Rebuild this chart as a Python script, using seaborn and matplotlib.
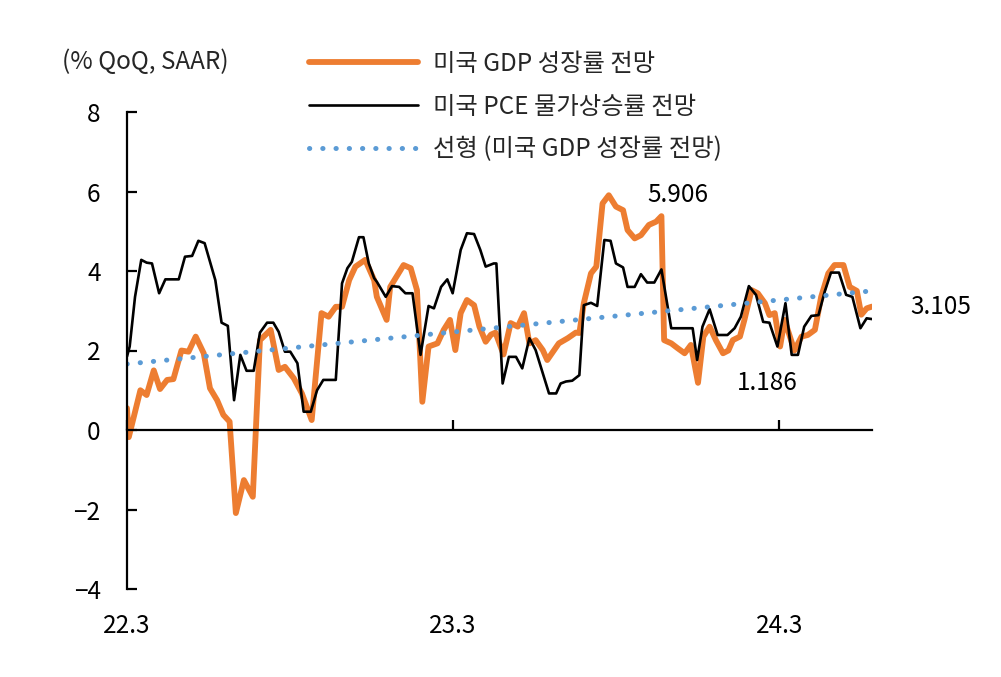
import numpy as np
import pandas as pd
import matplotlib
matplotlib.use("Agg")
import matplotlib.pyplot as plt
import seaborn as sns

# ---------------- data (days since 2022-03-01) ----------------
start_date = "2022-03-01"
gdp_days = [0, 2, 15, 22, 30, 37, 45, 52, 61, 69,
            77, 86, 93, 101, 108, 115, 122, 131, 141, 149,
            161, 170, 177, 187, 196, 207, 218, 226, 234, 241,
            249, 256, 267, 277, 280, 291, 295, 310, 318, 325,
            331, 338, 348, 355, 362, 368, 374, 381, 389, 395,
            402, 408, 413, 422, 430, 438, 445, 451, 458, 466,
            471, 484, 494, 503, 507, 512, 520, 526, 533, 540,
            548, 556, 561, 569, 576, 585, 593, 599, 602, 610,
            617, 625, 632, 640, 646, 653, 660, 668, 674, 679,
            687, 692, 700, 707, 715, 720, 726, 732, 737, 748,
            756, 763, 771, 778, 786, 793, 803, 810, 818, 823,
            829, 835]
gdp_values = [0.55, -0.18, 1.0, 0.88, 1.5, 1.03, 1.26, 1.28, 2.0, 1.97,
              2.35, 1.93, 1.05, 0.75, 0.38, 0.21, -2.09, -1.26, -1.68, 2.26,
              2.52, 1.51, 1.59, 1.3, 0.92, 0.25, 2.94, 2.85, 3.1, 3.1,
              3.77, 4.11, 4.28, 3.77, 3.35, 2.77, 3.6, 4.15, 4.07, 3.52,
              0.71, 2.1, 2.18, 2.52, 2.77, 2.01, 2.94, 3.27, 3.14, 2.6,
              2.22, 2.4, 2.45, 1.9, 2.69, 2.6, 2.94, 2.18, 2.26, 2.01,
              1.76, 2.18, 2.31, 2.45, 2.44, 3.19, 3.94, 4.11, 5.7, 5.906,
              5.62, 5.53, 5.03, 4.82, 4.9, 5.16, 5.24, 5.38, 2.26, 2.18,
              2.06, 1.93, 2.14, 1.186, 2.35, 2.6, 2.26, 1.93, 2.0, 2.26,
              2.35, 2.77, 3.52, 3.44, 3.19, 2.89, 2.94, 2.1, 2.77, 2.0,
              2.35, 2.39, 2.52, 3.35, 3.94, 4.15, 4.15, 3.6, 3.5, 2.9,
              3.06, 3.105]

pce_days = [0, 3, 9, 16, 22, 28, 36, 43, 58, 65,
            73, 80, 87, 99, 106, 113, 120, 127, 134, 142,
            149, 157, 164, 170, 177, 183, 191, 198, 206, 213,
            220, 234, 241, 247, 252, 260, 265, 271, 277, 280,
            290, 297, 305, 312, 320, 329, 338, 344, 352, 359,
            365, 374, 381, 389, 396, 402, 411, 414, 421, 428,
            436, 443, 451, 458, 473, 481, 486, 492, 499, 507,
            512, 520, 527, 535, 542, 548, 556, 561, 569, 576,
            583, 591, 599, 610, 634, 639, 645, 653, 662, 673,
            681, 688, 697, 705, 713, 720, 729, 738, 745, 752,
            759, 767, 775, 782, 789, 798, 806, 813, 822, 829,
            835]
pce_values = [1.85, 2.1, 3.35, 4.28, 4.21, 4.19, 3.44, 3.79, 3.79, 4.36,
              4.38, 4.76, 4.7, 3.77, 2.7, 2.62, 0.75, 1.89, 1.49, 1.49,
              2.45, 2.7, 2.7, 2.47, 1.97, 1.97, 1.68, 0.46, 0.46, 1.0,
              1.26, 1.26, 3.69, 4.07, 4.23, 4.85, 4.85, 4.19, 3.82, 3.73,
              3.35, 3.62, 3.6, 3.44, 3.44, 1.89, 3.12, 3.06, 3.6, 3.79,
              3.44, 4.53, 4.95, 4.93, 4.53, 4.11, 4.19, 4.19, 1.17, 1.84,
              1.84, 1.55, 2.31, 2.01, 0.92, 0.92, 1.17, 1.22, 1.24, 1.38,
              3.14, 3.2, 3.12, 4.78, 4.76, 4.19, 4.09, 3.6, 3.6, 3.92,
              3.71, 3.71, 4.04, 2.56, 2.56, 1.76, 2.6, 3.04, 2.39, 2.39,
              2.56, 2.85, 3.62, 3.4, 2.72, 2.7, 2.1, 3.19, 1.89, 1.89,
              2.6, 2.87, 2.89, 3.48, 3.96, 3.96, 3.4, 3.35, 2.56, 2.81,
              2.79]

# linear trend of the GDP series, read at its two ends
trend_days = [0, 835]
trend_values = [1.66, 3.50]

tick_dates = ["2022-03-01", "2023-03-01", "2024-03-01"]
tick_labels = ["22.3", "23.3", "24.3"]
y_ticks = [-4, -2, 0, 2, 4, 6, 8]
series_labels = ["미국 GDP 성장률 전망", "미국 PCE 물가상승률 전망", "선형 (미국 GDP 성장률 전망)"]
unit_label = "(% QoQ, SAAR)"
annot_values = [5.906, 1.186, 3.105]

# ---------------- frames ----------------
t0 = pd.Timestamp(start_date)
gdp_df = pd.DataFrame({"date": t0 + pd.to_timedelta(gdp_days, unit="D"), "value": gdp_values})
pce_df = pd.DataFrame({"date": t0 + pd.to_timedelta(pce_days, unit="D"), "value": pce_values})
trend_df = pd.DataFrame({"date": t0 + pd.to_timedelta(trend_days, unit="D"), "value": trend_values})

# ---------------- style ----------------
sns.set_style("ticks")
plt.rcParams["font.family"] = ["Noto Sans CJK KR", "DejaVu Sans"]
plt.rcParams["axes.unicode_minus"] = True
FS = 17.5

fig = plt.figure(figsize=(10.01, 6.77), dpi=100)
ax = fig.add_axes([127 / 1001, 88 / 677, (872 - 127) / 1001, (589 - 112) / 677])

sns.lineplot(data=gdp_df, x="date", y="value", ax=ax, color="#ED7D31",
             linewidth=4.2, label=series_labels[0], sort=False)
sns.lineplot(data=pce_df, x="date", y="value", ax=ax, color="black",
             linewidth=1.9, label=series_labels[1], sort=False)
sns.lineplot(data=trend_df, x="date", y="value", ax=ax, color="#5B9BD5",
             linewidth=3.6, linestyle=(0, (0.05, 2.6)), dash_capstyle="round",
             label=series_labels[2], sort=False)

ax.set_xlim(gdp_df["date"].iloc[0], gdp_df["date"].iloc[-1])
ax.set_ylim(-4, 8)
ax.set_yticks(y_ticks)
ax.set_xticks(pd.to_datetime(tick_dates))
ax.set_xticklabels(tick_labels)
ax.set_xlabel("")
ax.set_ylabel("")

for s in ["top", "right"]:
    ax.spines[s].set_visible(False)
ax.spines["bottom"].set_position(("data", 0))
for s in ["left", "bottom"]:
    ax.spines[s].set_linewidth(1.6)
    ax.spines[s].set_color("black")

ax.tick_params(axis="x", direction="in", length=7, width=1.6, pad=132,
               labelsize=FS, colors="black")
ax.tick_params(axis="y", direction="in", length=7, width=1.6, pad=19,
               labelsize=FS, colors="black")

# annotations
imax = int(np.argmax(gdp_values))
imin = gdp_values.index(annot_values[1])
ilast = len(gdp_values) - 1
for idx in [imax, imin, ilast]:
    ax.annotate(f"{gdp_values[idx]:.3f}", xy=(gdp_df["date"].iloc[idx], gdp_values[idx]),
                xytext=(69, 0), textcoords="offset pixels", ha="center", va="center",
                fontsize=FS, color="black")

fig.text(62 / 1001, 1 - 62 / 677, unit_label, ha="left", va="center", fontsize=FS)

leg = ax.legend(loc="upper left", bbox_to_anchor=(309 / 1001, 1 - 51 / 677),
                bbox_transform=fig.transFigure, frameon=False, fontsize=FS,
                handlelength=4.5, handletextpad=0.6, labelspacing=0.68,
                borderpad=0, borderaxespad=0)

fig.savefig("out.png", dpi=100)
